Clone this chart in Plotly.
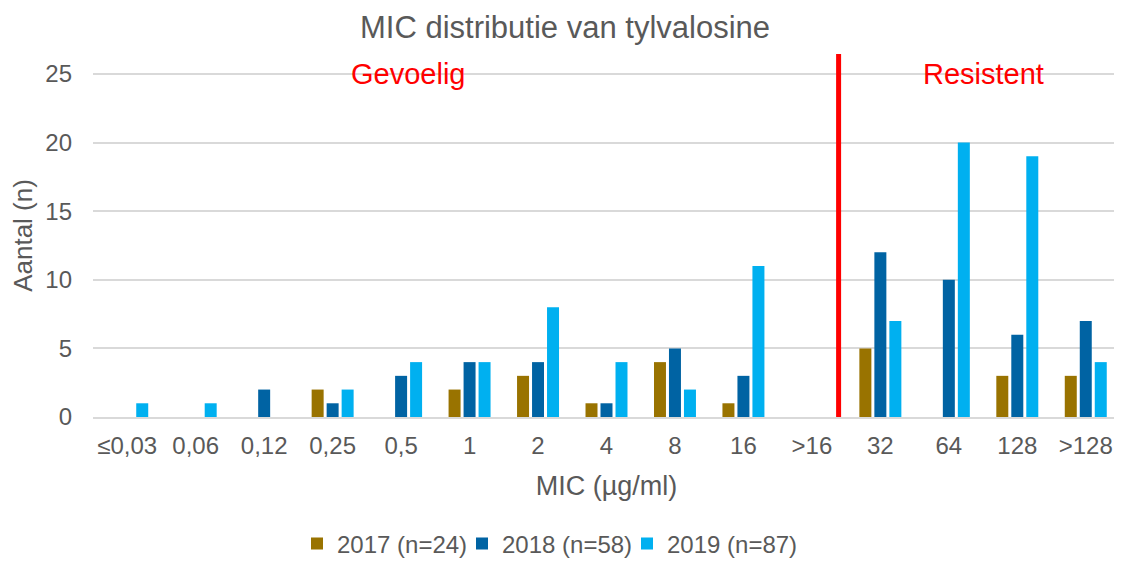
import plotly.graph_objects as go

categories = ["≤0,03", "0,06", "0,12", "0,25", "0,5", "1", "2", "4", "8", "16", ">16", "32", "64", "128", ">128"]
series_names = ["2017 (n=24)", "2018 (n=58)", "2019 (n=87)"]
values_2017 = [0, 0, 0, 2, 0, 2, 3, 1, 4, 1, 0, 5, 0, 3, 3]
values_2018 = [0, 0, 2, 1, 3, 4, 4, 1, 5, 3, 0, 12, 10, 6, 7]
values_2019 = [1, 1, 0, 2, 4, 4, 8, 4, 2, 11, 0, 7, 20, 19, 4]
colors = ["#997300", "#0063A3", "#00B0F0"]
legend_ids = ["legend", "legend2", "legend3"]

FONT = "Liberation Sans, Arial, sans-serif"
GREY = "#595959"
W, H = 1114, 553

fig = go.Figure()
for name, vals, col, lg in zip(series_names, [values_2017, values_2018, values_2019], colors, legend_ids):
    fig.add_trace(go.Bar(x=categories, y=vals, name=name, legend=lg,
                         marker=dict(color=col, line=dict(width=0))))

# red breakpoint line between >16 and 32
fig.add_shape(type="line", xref="x", yref="paper", x0=10.39, x1=10.39, y0=0, y1=1,
              line=dict(color="#FF0000", width=5))

fig.add_annotation(x=4.1, y=25, xref="x", yref="y", text="Gevoelig", showarrow=False,
                   font=dict(color="#FF0000", size=29, family=FONT), yanchor="middle")
fig.add_annotation(x=12.5, y=25, xref="x", yref="y", text="Resistent", showarrow=False,
                   font=dict(color="#FF0000", size=29, family=FONT), yanchor="middle")

def legend_at(px_left):
    return dict(orientation="h", x=px_left / W, xanchor="left", xref="container",
                y=1 - 536 / H, yanchor="middle", yref="container",
                font=dict(size=24, color=GREY), itemwidth=30, bgcolor="rgba(0,0,0,0)")

fig.update_layout(
    width=W, height=H,
    margin=dict(l=85, r=2, t=46, b=144),
    paper_bgcolor="white", plot_bgcolor="white",
    font=dict(family=FONT, color=GREY, size=24),
    title=dict(text="MIC distributie van tylvalosine", x=0.5, xanchor="center", xref="container",
               y=1 - 19 / H, yanchor="middle", yref="container",
               font=dict(size=31, color=GREY, family=FONT)),
    barmode="group", bargap=0.343, bargroupgap=0.2,
    showlegend=True,
    legend=legend_at(289),
    legend2=legend_at(454),
    legend3=legend_at(619),
    xaxis=dict(title=dict(text="MIC (µg/ml)", font=dict(size=27, color=GREY), standoff=18),
               showgrid=False, showline=True, linecolor="#D9D9D9", linewidth=2,
               tickfont=dict(size=24, color=GREY), ticks="", ticklabelstandoff=6,
               categoryorder="array", categoryarray=categories),
    yaxis=dict(title=dict(text="Aantal (n)", font=dict(size=26, color=GREY), standoff=12),
               range=[0, 26.46], dtick=5, tick0=0, showgrid=True, gridcolor="#D9D9D9", gridwidth=2,
               zeroline=False, showline=False, ticks="", ticklabelstandoff=20,
               tickfont=dict(size=24, color=GREY)),
)

fig.write_html("out.html")
